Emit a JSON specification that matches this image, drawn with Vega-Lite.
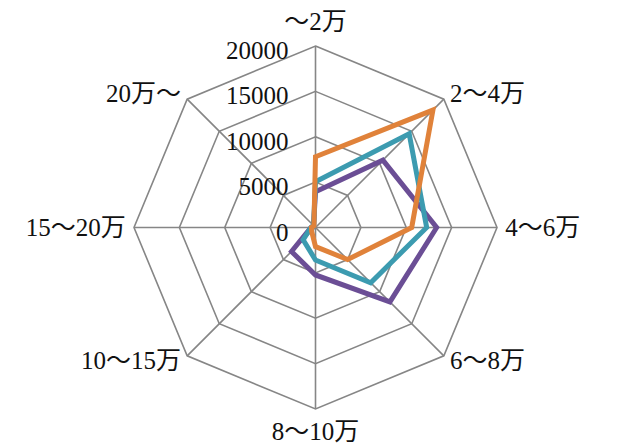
{
  "$schema": "https://vega.github.io/schema/vega-lite/v6.json",
  "width": 618,
  "height": 447,
  "padding": 0,
  "autosize": {"type": "none"},
  "background": "white",
  "config": {"view": {"stroke": null}, "text": {"font": "Times New Roman, Liberation Serif, DejaVu Serif, serif, Noto Sans CJK JP", "fontSize": 25, "color": "#111111"}},
  "datasets": {
    "series": [
      {"series": "系列1", "cat": "～2万", "idx": 0, "value": 3950},
      {"series": "系列1", "cat": "2～4万", "idx": 1, "value": 10500},
      {"series": "系列1", "cat": "4～6万", "idx": 2, "value": 13350},
      {"series": "系列1", "cat": "6～8万", "idx": 3, "value": 11600},
      {"series": "系列1", "cat": "8～10万", "idx": 4, "value": 5230},
      {"series": "系列1", "cat": "10～15万", "idx": 5, "value": 3740},
      {"series": "系列1", "cat": "15～20万", "idx": 6, "value": 500},
      {"series": "系列1", "cat": "20万～", "idx": 7, "value": 300},
      {"series": "系列2", "cat": "～2万", "idx": 0, "value": 5050},
      {"series": "系列2", "cat": "2～4万", "idx": 1, "value": 14600},
      {"series": "系列2", "cat": "4～6万", "idx": 2, "value": 12250},
      {"series": "系列2", "cat": "6～8万", "idx": 3, "value": 8600},
      {"series": "系列2", "cat": "8～10万", "idx": 4, "value": 3580},
      {"series": "系列2", "cat": "10～15万", "idx": 5, "value": 1930},
      {"series": "系列2", "cat": "15～20万", "idx": 6, "value": 500},
      {"series": "系列2", "cat": "20万～", "idx": 7, "value": 300},
      {"series": "系列3", "cat": "～2万", "idx": 0, "value": 7800},
      {"series": "系列3", "cat": "2～4万", "idx": 1, "value": 18300},
      {"series": "系列3", "cat": "4～6万", "idx": 2, "value": 10600},
      {"series": "系列3", "cat": "6～8万", "idx": 3, "value": 5000},
      {"series": "系列3", "cat": "8～10万", "idx": 4, "value": 2100},
      {"series": "系列3", "cat": "10～15万", "idx": 5, "value": 600},
      {"series": "系列3", "cat": "15～20万", "idx": 6, "value": 450},
      {"series": "系列3", "cat": "20万～", "idx": 7, "value": 250}
    ],
    "cats": [
      {"cat": "～2万", "idx": 0},
      {"cat": "2～4万", "idx": 1},
      {"cat": "4～6万", "idx": 2},
      {"cat": "6～8万", "idx": 3},
      {"cat": "8～10万", "idx": 4},
      {"cat": "10～15万", "idx": 5},
      {"cat": "15～20万", "idx": 6},
      {"cat": "20万～", "idx": 7}
    ],
    "rings": [
      {"ring": 5000, "idx": 0}, {"ring": 5000, "idx": 1}, {"ring": 5000, "idx": 2}, {"ring": 5000, "idx": 3},
      {"ring": 5000, "idx": 4}, {"ring": 5000, "idx": 5}, {"ring": 5000, "idx": 6}, {"ring": 5000, "idx": 7},
      {"ring": 10000, "idx": 0}, {"ring": 10000, "idx": 1}, {"ring": 10000, "idx": 2}, {"ring": 10000, "idx": 3},
      {"ring": 10000, "idx": 4}, {"ring": 10000, "idx": 5}, {"ring": 10000, "idx": 6}, {"ring": 10000, "idx": 7},
      {"ring": 15000, "idx": 0}, {"ring": 15000, "idx": 1}, {"ring": 15000, "idx": 2}, {"ring": 15000, "idx": 3},
      {"ring": 15000, "idx": 4}, {"ring": 15000, "idx": 5}, {"ring": 15000, "idx": 6}, {"ring": 15000, "idx": 7},
      {"ring": 20000, "idx": 0}, {"ring": 20000, "idx": 1}, {"ring": 20000, "idx": 2}, {"ring": 20000, "idx": 3},
      {"ring": 20000, "idx": 4}, {"ring": 20000, "idx": 5}, {"ring": 20000, "idx": 6}, {"ring": 20000, "idx": 7}
    ],
    "ticks": [
      {"tick": 0}, {"tick": 5000}, {"tick": 10000}, {"tick": 15000}, {"tick": 20000}
    ]
  },
  "encoding": {
    "x": {"field": "px", "type": "quantitative", "scale": {"domain": [-34766, 33333], "nice": false, "zero": false}, "axis": null},
    "y": {"field": "py", "type": "quantitative", "scale": {"domain": [-24187, 25069], "nice": false, "zero": false}, "axis": null}
  },
  "layer": [
    {
      "data": {"name": "rings"},
      "transform": [
        {"calculate": "datum.idx * PI / 4", "as": "a"},
        {"calculate": "datum.ring * sin(datum.a)", "as": "px"},
        {"calculate": "datum.ring * cos(datum.a)", "as": "py"}
      ],
      "mark": {"type": "line", "interpolate": "linear-closed", "stroke": "#868686", "strokeWidth": 1.6},
      "encoding": {"detail": {"field": "ring"}, "order": {"field": "idx"}}
    },
    {
      "data": {"name": "cats"},
      "transform": [
        {"calculate": "datum.idx * PI / 4", "as": "a"},
        {"calculate": "20000 * sin(datum.a)", "as": "px"},
        {"calculate": "20000 * cos(datum.a)", "as": "py"}
      ],
      "mark": {"type": "rule", "stroke": "#868686", "strokeWidth": 1.6},
      "encoding": {"x2": {"datum": 0}, "y2": {"datum": 0}}
    },
    {
      "data": {"name": "series"},
      "transform": [
        {"calculate": "datum.idx * PI / 4", "as": "a"},
        {"calculate": "datum.value * sin(datum.a)", "as": "px"},
        {"calculate": "datum.value * cos(datum.a)", "as": "py"}
      ],
      "mark": {"type": "line", "interpolate": "linear-closed", "strokeWidth": 5},
      "encoding": {
        "color": {"field": "series", "type": "nominal", "scale": {"domain": ["系列1", "系列2", "系列3"], "range": ["#6B4E95", "#3C9BB0", "#E0823A"]}, "legend": null},
        "order": {"field": "idx"}
      }
    },
    {
      "data": {"name": "ticks"},
      "transform": [
        {"calculate": "0", "as": "px"},
        {"calculate": "datum.tick", "as": "py"}
      ],
      "mark": {"type": "text", "align": "right", "baseline": "middle", "dx": -27, "dy": 5},
      "encoding": {"text": {"field": "tick", "type": "nominal"}}
    },
    {
      "data": {"name": "cats"},
      "transform": [
        {"filter": "datum.idx >= 1 && datum.idx <= 3"},
        {"calculate": "datum.idx * PI / 4", "as": "a"},
        {"calculate": "20800 * sin(datum.a)", "as": "px"},
        {"calculate": "20800 * cos(datum.a)", "as": "py"}
      ],
      "mark": {"type": "text", "align": "left", "baseline": "middle", "dx": 1},
      "encoding": {"text": {"field": "cat", "type": "nominal"}}
    },
    {
      "data": {"name": "cats"},
      "transform": [
        {"filter": "datum.idx >= 5"},
        {"calculate": "datum.idx * PI / 4", "as": "a"},
        {"calculate": "20800 * sin(datum.a)", "as": "px"},
        {"calculate": "20800 * cos(datum.a)", "as": "py"}
      ],
      "mark": {"type": "text", "align": "right", "baseline": "middle", "dx": -1},
      "encoding": {"text": {"field": "cat", "type": "nominal"}}
    },
    {
      "data": {"name": "cats"},
      "transform": [
        {"filter": "datum.idx == 0"},
        {"calculate": "0", "as": "px"},
        {"calculate": "20800", "as": "py"}
      ],
      "mark": {"type": "text", "align": "center", "baseline": "middle", "dy": -17},
      "encoding": {"text": {"field": "cat", "type": "nominal"}}
    },
    {
      "data": {"name": "cats"},
      "transform": [
        {"filter": "datum.idx == 4"},
        {"calculate": "0", "as": "px"},
        {"calculate": "-20800", "as": "py"}
      ],
      "mark": {"type": "text", "align": "center", "baseline": "middle", "dy": 16},
      "encoding": {"text": {"field": "cat", "type": "nominal"}}
    }
  ]
}
